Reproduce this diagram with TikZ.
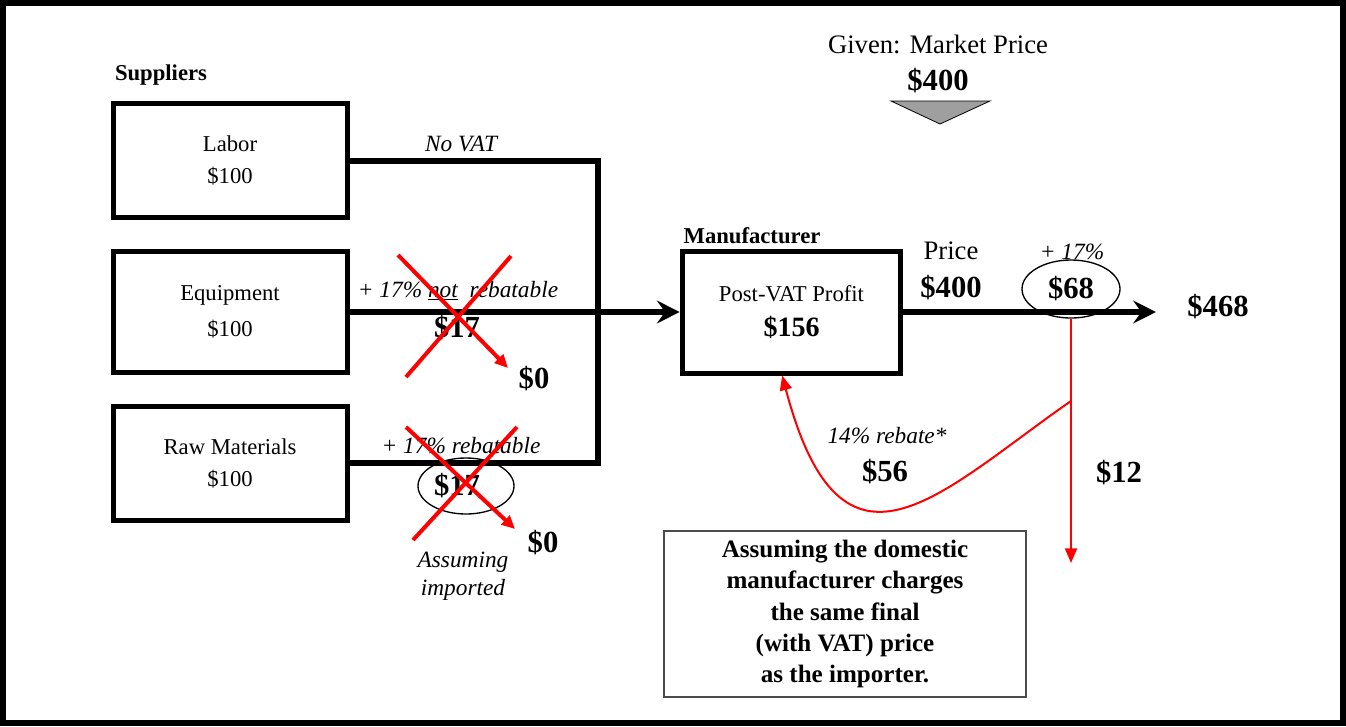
\documentclass[tikz,border=0pt]{standalone}
\usepackage{fontspec}
\setmainfont{Liberation Serif}
\usetikzlibrary{arrows.meta,shapes.geometric}

\begin{document}
\begin{tikzpicture}[x=0.75pt,y=-0.75pt,
box/.style={draw,line width=3.75pt,align=center,inner sep=0pt,minimum width=175.5pt},
txt/.style={font=\fontsize{17}{24}\selectfont},
ital/.style={font=\fontsize{17.5}{21}\selectfont\itshape},
big/.style={font=\fontsize{23}{27}\selectfont\bfseries},
head/.style={font=\fontsize{17}{20}\selectfont\bfseries},
bus/.style={line width=4.5pt,line join=miter},
blackhead/.style={-{Stealth[length=17pt,width=17pt,inset=6pt]}},
oval/.style={draw,ellipse,line width=1pt,inner sep=0pt},
cross/.style={draw=red,line width=3pt},
redline/.style={draw=red,line width=1.5pt,-{Triangle[length=11pt,width=9pt]}}]
\useasboundingbox (0,0) rectangle (1346,726);
\draw[line width=4.5pt] (3,3) rectangle (1343,723);

% suppliers
\node[head] (supp) at (161,75) {Suppliers};
\node[box,txt,minimum height=86pt] (labor) at (230,160.5) {Labor\\\$100};
\node[box,txt,minimum height=91pt] (equip) at (230,312) {Equipment\\[3pt]\$100};
\node[box,txt,minimum height=85.5pt] (raw) at (230,463) {Raw Materials\\\$100};

% manufacturer
\node[head] (mlabel) at (752,236) {Manufacturer};
\node[box,font=\fontsize{17}{26}\selectfont,minimum width=164pt,minimum height=91.5pt] (manuf) at (791.5,312)
  {Post-VAT Profit\\{\fontsize{21}{26}\selectfont\bfseries \$156}};

% market price
\node[font=\fontsize{20}{24}\selectfont] (given) at (938,44) {Given: Market Price};
\node[big] (market) at (938,81) {\$400};
\draw[fill=gray!75,line width=0.6pt] (891,101) -- (990,101) -- (940,124) -- cycle;

% flows into manufacturer
\coordinate (joint) at (598,463);
\draw[bus] (labor.east) -| (joint) -- (raw.east);
\draw[bus,blackhead] (equip.east) -- (manuf.west);
\node[ital] (novat) at (461,144) {No VAT};
\node[ital] (notreb) at (458,291) {+ 17\% \underline{not}~ rebatable};
\node[big] (equipvat) at (457,328) {\$17};
\node[big] (zeroA) at (534,379) {\$0};
\draw[cross] (511,256) -- (406,377);
\draw[cross,-{Triangle[length=10pt,width=9pt]}] (398,255) -- (508,368);

\node[ital] (reb) at (461,446) {+ 17\% rebatable};
\node[oval,minimum width=72pt,minimum height=42pt] (rawoval) at (466,486) {};
\node[big] (rawvat) at (457,486) {\$17};
\node[big] (zeroB) at (543,543) {\$0};
\node[ital,align=center,font=\fontsize{17.5}{21}\selectfont\itshape] (import) at (463,576) {Assuming\\imported};
\draw[cross] (517,427) -- (413,540);
\draw[cross,-{Triangle[length=10pt,width=9pt]}] (406,427) -- (515,529);

% output side
\node[font=\fontsize{20}{24}\selectfont] (price) at (951,251) {Price};
\node[big] (pval) at (951,288) {\$400};
\node[ital] (plus) at (1072,252) {+ 17\%};
\node[oval,big,minimum width=73.5pt,minimum height=43.5pt] (vat) at (1071,289) {\$68};
\node[big] (total) at (1218,307) {\$468};
\draw[bus,blackhead] (manuf.east) -- ([xshift=-20pt]manuf.east -| total.west);

% rebate split
\coordinate (taxend) at (1071,563);
\coordinate (split) at (1071,401);
\draw[redline] (vat.south) -- (taxend);
\node[big] (tax) at (1119,473) {\$12};
\draw[redline] (split) .. controls (940,492) and (842,602) .. ([xshift=-7pt]manuf.south);
\node[ital] (rebate) at (887,436) {14\% rebate*};
\node[big] (rebval) at (885,472) {\$56};

% note
\node[draw=black!70,line width=1pt,align=center,minimum width=271.5pt,minimum height=124.5pt,
  font=\fontsize{18.8}{23.6}\selectfont\bfseries] (note) at (845,614)
  {Assuming the domestic\\manufacturer charges\\the same final\\(with VAT) price\\as the importer.};
\end{tikzpicture}
\end{document}
